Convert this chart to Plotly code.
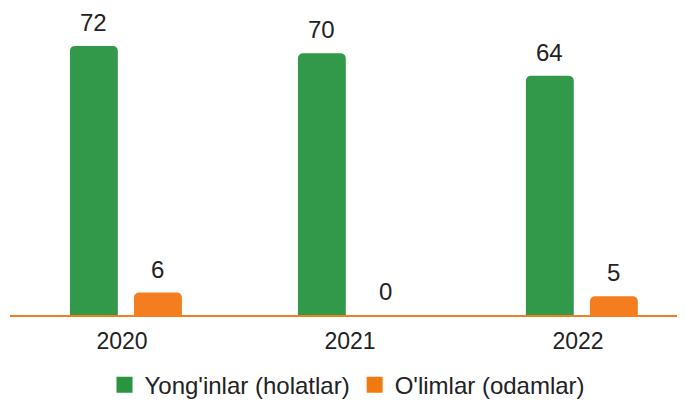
import plotly.graph_objects as go

years = ["2020", "2021", "2022"]
fires = [72, 70, 64]
deaths = [6, 0, 5]
series_names = ["Yong'inlar (holatlar)", "O'limlar (odamlar)"]

GREEN = "#33994A"
ORANGE = "#F47D20"
FONT = "Liberation Sans Narrow, Liberation Sans, Arial, sans-serif"

BAR_W = 0.21
OFF_G = -0.246
OFF_O = 0.035

fig = go.Figure()
fig.add_trace(go.Bar(x=list(range(len(years))), y=fires, width=BAR_W, offset=OFF_G,
                     marker=dict(color=GREEN, line=dict(width=0)), showlegend=False))
fig.add_trace(go.Bar(x=list(range(len(years))), y=deaths, width=BAR_W, offset=OFF_O,
                     marker=dict(color=ORANGE, line=dict(width=0)), showlegend=False))

# legend entries
fig.add_trace(go.Scatter(x=[None], y=[None], mode="markers", name=series_names[0],
                         marker=dict(symbol="square", size=16, color="#2A9440")))
fig.add_trace(go.Scatter(x=[None], y=[None], mode="markers", name=series_names[1],
                         marker=dict(symbol="square", size=16, color="#F07A10")))

for i in range(len(years)):
    for vals, off in ((fires, OFF_G), (deaths, OFF_O)):
        fig.add_annotation(x=i + off + BAR_W / 2, y=vals[i], text=str(vals[i]),
                           showarrow=False, yanchor="bottom", yshift=8,
                           font=dict(family=FONT, size=24, color="#222222"))

fig.update_layout(
    width=677, height=392,
    margin=dict(l=2, r=0, t=2, b=85),
    plot_bgcolor="white", paper_bgcolor="white",
    barmode="overlay", barcornerradius=5,
    showlegend=True,
    legend=dict(orientation="h", x=0.5, xanchor="center", yref="container", y=0.038,
                yanchor="middle", font=dict(family=FONT, size=24, color="#222222"),
                itemwidth=30, tracegroupgap=0),
    xaxis=dict(range=[-0.509, 2.452], tickmode="array", tickvals=list(range(len(years))),
               ticktext=years, showline=True, linecolor=ORANGE, linewidth=2,
               showgrid=False, zeroline=False, ticks="", ticklabelstandoff=4,
               ticklabelshift=-4,
               tickfont=dict(family=FONT, size=23, color="#222222")),
    yaxis=dict(range=[0, 81.6], visible=False, showgrid=False, zeroline=False),
)

fig.write_html("out.html")
